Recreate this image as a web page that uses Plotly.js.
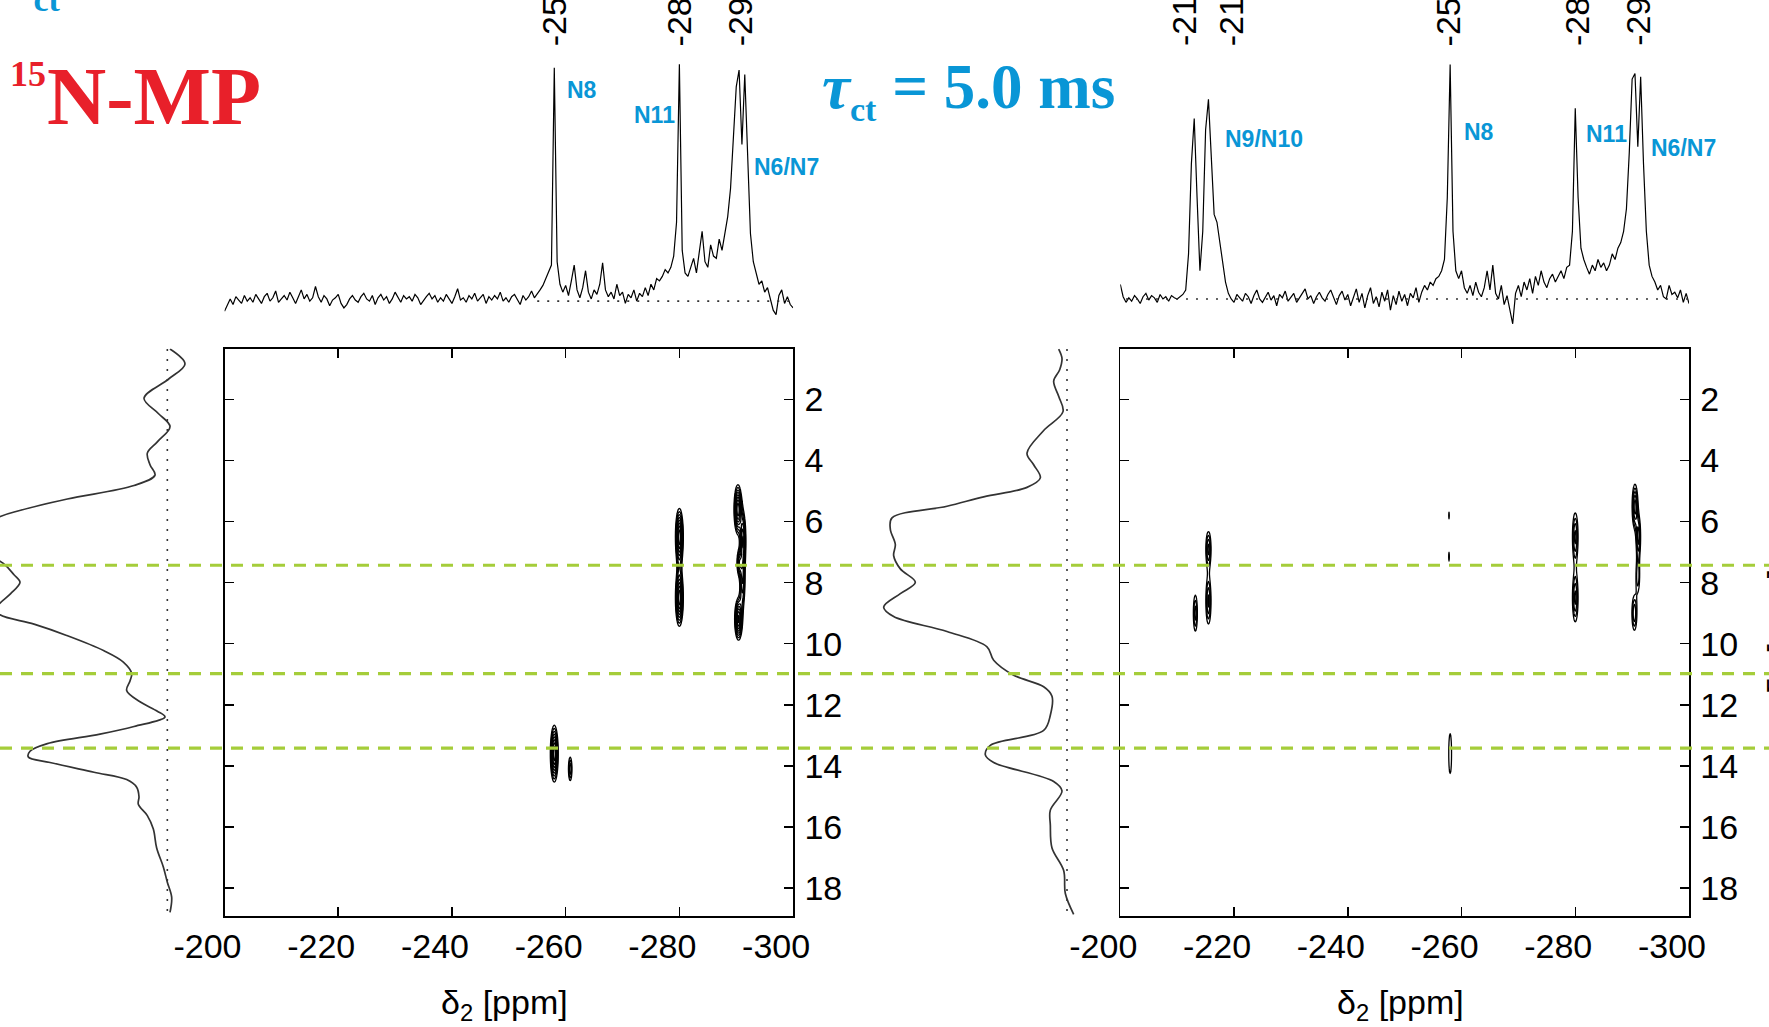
<!DOCTYPE html>
<html>
<head>
<meta charset="utf-8">
<script src="https://cdn.plot.ly/plotly-3.0.1.min.js"></script>
<style>
  html, body { margin: 0; padding: 0; background: #ffffff; }
  #chart { width: 1769px; height: 1027px; }
</style>
</head>
<body>
<div id="chart"></div>
<script>
// ---------------- data ----------------
// 1D 15N spectra above each 2D map, sampled every 0.5 ppm from -200 ppm
const ppmStart = -200;
const ppmStep = -0.5;
const specLeft = [
  -9, -4, 2, -3, 4, 1, -2, 5, 0, 3,
  -1, 6, 2, -2, 4, 7, 0, 3, 9, -1,
  2, 5, 1, 8, 3, -2, 4, 10, 2, 6,
  0, 3, 13, 4, -1, 5, 2, -4, 1, 3,
  6, -2, -6, -3, 2, 5, 1, -1, 4, 7,
  2, 0, 5, -3, 3, 6, 1, 4, -2, 2,
  8, 3, -1, 5, 2, 4, 0, 6, 3, -3,
  1, 4, 7, 2, 5, -1, 3, 0, 6, 2,
  -2, 4, 11, 1, 3, -1, 5, 2, 7, 0,
  3, 6, -2, 4, 1, 5, 2, 8, 0, 3,
  -1, 4, 6, 2, -3, 5, 1, 4, 9, 3,
  6, 10, 14, 20, 26, 32, 207, 35, 15, 8,
  14, 5, 18, 32, 10, 3, 12, 27, 8, 2,
  10, 6, 15, 34, 10, 4, 8, 2, 15, 5,
  8, -2, 6, 3, 10, 0, 7, 4, 12, 5,
  15, 10, 20, 18, 22, 28, 25, 30, 40, 70,
  210, 45, 25, 22, 30, 38, 25, 45, 62, 35,
  30, 50, 40, 38, 55, 45, 60, 75, 100, 140,
  190, 205, 139, 201, 120, 60, 35, 25, 15, 18,
  8, 12, 3, -8, -12, 5, 10, -2, 4, -3,
  -6
];
const specRight = [
  13, 2, -3, 1, -2, 3, 0, -4, 2, 5,
  -1, 3, 1, -3, 4, 0, 2, -2, 3, 1,
  0, 2, 4, 8, 40, 120, 160, 90, 25, 60,
  150, 177, 130, 75, 68, 50, 30, 15, 5, 0,
  -3, 4, 1, -2, 5, 2, -4, 3, 8, 0,
  -3, 2, 6, -1, 3, -6, 4, 1, 7, -2,
  2, 5, -3, 1, 4, 9, 0, 3, -4, 2,
  6, 1, -2, 4, 8, 2, -5, 3, 7, -1,
  4, -6, 2, 9, -3, 5, -8, 3, 10, -4,
  2, -7, 6, -2, 8, -10, 3, -5, 7, -2,
  4, -6, 5, 1, 10, -3, 6, 12, 8, 15,
  12, 18, 20, 25, 35, 90, 208, 60, 25, 18,
  25, 10, 5, 12, 3, 15, 6, 2, 10, 25,
  8, 30, 5, 0, 12, -5, 3, -10, -22, 5,
  12, 2, 15, 8, 18, 5, 20, 12, 25, 15,
  10, 18, 22, 15, 20, 25, 18, 28, 30, 60,
  169, 90, 45, 35, 28, 22, 30, 25, 35, 28,
  32, 25, 30, 40, 35, 45, 50, 60, 80, 130,
  195, 200, 135, 197, 120, 60, 30, 20, 15, 8,
  12, 2, 0, 12, 4, 6, 1, 8, -3, 5,
  -4
];

// 1H projections along delta1 (ppm) with their intensities
const projLeftPpm = [0.35, 0.84, 1.34, 1.96, 2.46, 2.89, 3.39, 3.76, 4.14, 4.48,
  4.82, 5.26, 5.63, 5.88, 6.62, 7.37, 7.74, 7.99, 8.36, 8.67,
  8.86, 9.05, 9.36, 9.73, 10.23, 10.60, 10.97, 11.22, 11.53, 11.90,
  12.21, 12.40, 12.71, 12.96, 13.27, 13.52, 13.71, 13.89, 14.21, 14.45,
  14.70, 15.01, 15.26, 15.63, 16.07, 16.69, 17.31, 17.81, 18.30, 18.80];
const projLeftInt = [-8, -53, -3, 70, 27, -8, 30, 60, 52, 37,
  100, 300, 440, 510, 600, 492, 460, 442, 470, 502,
  515, 502, 400, 302, 190, 132, 107, 112, 122, 82,
  30, 7, 100, 202, 360, 412, 417, 352, 220, 122,
  92, 85, 87, 60, 42, 32, 12, 0, -13, -8];
const projRightPpm = [0.35, 0.66, 1.03, 1.40, 1.90, 2.40, 3.02, 3.76, 4.14, 4.57,
  4.88, 5.19, 5.50, 5.88, 6.25, 6.75, 7.12, 7.55, 7.99, 8.36,
  8.80, 9.11, 9.60, 10.10, 10.54, 11.03, 11.41, 11.72, 12.34, 12.84,
  13.33, 13.64, 13.89, 14.51, 14.82, 15.45, 15.94, 16.69, 17.43, 18.18,
  18.86];
const projRightInt = [25, 15, 22, 40, 25, 12, 70, 120, 100, 80,
  120, 250, 360, 525, 530, 515, 520, 500, 455, 500,
  550, 520, 360, 240, 220, 160, 70, 45, 50, 70,
  230, 245, 220, 40, 15, 50, 50, 45, 10, 5,
  -20];

// 2D cross peaks: delta2 / delta1 centres (ppm), widths (ppm), heights
const peaksLeftD2  = [-280.0, -280.0, -290.3, -291.2, -291.1, -290.4, -290.5, -258.0, -260.8];
const peaksLeftD1  = [6.5, 8.5, 5.6, 6.6, 8.0, 9.2, 7.35, 13.6, 14.1];
const peaksLeftW2  = [0.45, 0.45, 0.45, 0.35, 0.35, 0.45, 0.3, 0.45, 0.28];
const peaksLeftW1  = [0.6, 0.6, 0.52, 0.6, 0.6, 0.45, 0.3, 0.6, 0.35];
const peaksLeftAmp = [1.0, 1.0, 1.0, 0.8, 0.6, 0.95, 0.6, 1.0, 0.55];

const peaksRightD2  = [-213.2, -215.5, -215.5, -258.0, -257.8, -257.8, -280.0, -280.0, -290.5, -291.1, -291.0, -290.4];
const peaksRightD1  = [9.0, 6.9, 8.6, 13.6, 5.8, 7.15, 6.5, 8.5, 5.5, 6.5, 7.8, 9.0];
const peaksRightW2  = [0.3, 0.35, 0.35, 0.3, 0.15, 0.15, 0.38, 0.38, 0.35, 0.3, 0.3, 0.35];
const peaksRightW1  = [0.5, 0.44, 0.58, 0.8, 0.25, 0.3, 0.6, 0.6, 0.5, 0.5, 0.45, 0.45];
const peaksRightAmp = [0.6, 0.7, 0.7, 0.42, 0.33, 0.34, 0.7, 0.7, 0.85, 0.7, 0.5, 0.65];

// axis ticks and guide lines
const xTicks = [-200, -220, -240, -260, -280, -300];
const yTicks = [2, 4, 6, 8, 10, 12, 14, 16, 18];
const guideD1 = [7.43, 10.98, 13.42];

// peak annotations of the 1D traces
const topPpmLeft = [-258.0, -280.0, -290.7];
const topTxtLeft = ['-258.0', '-280.0', '-290.7'];
const topPpmRight = [-211.2, -219.5, -257.7, -280.3, -291.0];
const topTxtRight = ['-212.9', '-215.5', '-258.1', '-280.3', '-290.9'];

// ---------------- helpers ----------------
const W = 1769, H = 1027;
const px = v => v / W;
const py = v => 1 - v / H;
const ppmAxis = n => Array.from({ length: n }, (_, i) => ppmStart + ppmStep * i);

function surface(cx, cy, sx, sy, amp) {
  const xs = [], ys = [];
  for (let i = 0; i <= 920; i++) xs.push(-296 + i * 0.1);
  for (let j = 0; j <= 368; j++) ys.push(0.4 + j * 0.05);
  const z = ys.map(y => xs.map(x => {
    let s = 0;
    for (let k = 0; k < cx.length; k++) {
      const dx = (x - cx[k]) / sx[k], dy = (y - cy[k]) / sy[k];
      s += amp[k] * Math.exp(-0.5 * (dx * dx + dy * dy));
    }
    return s;
  }));
  return { xs, ys, z };
}

const black = '#000000';
const blue = '#0996d6';
const red = '#e8202a';
const green = '#a5cd3a';
const tickFont = { family: 'Liberation Sans, Arial, sans-serif', size: 34, color: black };
const serif = 'Liberation Serif, Times New Roman, serif';

const surfL = surface(peaksLeftD2, peaksLeftD1, peaksLeftW2, peaksLeftW1, peaksLeftAmp);
const surfR = surface(peaksRightD2, peaksRightD1, peaksRightW2, peaksRightW1, peaksRightAmp);

const blackScale = [[0, black], [1, black]];
const dotted = { color: '#333333', width: 1.6, dash: '2px,8px' };

const traces = [
  // 1D traces
  { type: 'scatter', mode: 'lines', x: ppmAxis(specLeft.length), y: specLeft,
    xaxis: 'x3', yaxis: 'y3', line: { color: black, width: 1.2 }, hoverinfo: 'skip' },
  { type: 'scatter', mode: 'lines', x: [-255, -300], y: [0, 0],
    xaxis: 'x3', yaxis: 'y3', line: dotted, hoverinfo: 'skip' },
  { type: 'scatter', mode: 'lines', x: ppmAxis(specRight.length), y: specRight,
    xaxis: 'x4', yaxis: 'y4', line: { color: black, width: 1.2 }, hoverinfo: 'skip' },
  { type: 'scatter', mode: 'lines', x: [-201, -300], y: [0, 0],
    xaxis: 'x4', yaxis: 'y4', line: dotted, hoverinfo: 'skip' },
  // projections
  { type: 'scatter', mode: 'lines', x: projLeftInt, y: projLeftPpm,
    xaxis: 'x5', yaxis: 'y5', line: { color: '#333333', width: 1.7, shape: 'spline', smoothing: 1 }, hoverinfo: 'skip' },
  { type: 'scatter', mode: 'lines', x: [0, 0], y: [0.35, 18.9],
    xaxis: 'x5', yaxis: 'y5', line: dotted, hoverinfo: 'skip' },
  { type: 'scatter', mode: 'lines', x: projRightInt, y: projRightPpm,
    xaxis: 'x6', yaxis: 'y6', line: { color: '#333333', width: 1.7, shape: 'spline', smoothing: 1 }, hoverinfo: 'skip' },
  { type: 'scatter', mode: 'lines', x: [0, 0], y: [0.35, 18.9],
    xaxis: 'x6', yaxis: 'y6', line: dotted, hoverinfo: 'skip' },
  // 2D contour maps
  { type: 'contour', x: surfL.xs, y: surfL.ys, z: surfL.z, xaxis: 'x', yaxis: 'y',
    colorscale: blackScale, showscale: false, hoverinfo: 'skip',
    contours: { coloring: 'lines', start: 0.3, end: 1.3, size: 0.09 },
    line: { color: black, width: 1.3, smoothing: 1 } },
  { type: 'contour', x: surfR.xs, y: surfR.ys, z: surfR.z, xaxis: 'x2', yaxis: 'y2',
    colorscale: blackScale, showscale: false, hoverinfo: 'skip',
    contours: { coloring: 'lines', start: 0.3, end: 1.3, size: 0.12 },
    line: { color: black, width: 1.3, smoothing: 1 } }
];

// 2D frame axes; x labels carry a trailing em space so they sit slightly left of their ticks
function mapX(domain, anchor) {
  return {
    domain, anchor, range: [-200, -300], tickvals: xTicks, ticktext: xTicks.map(v => v + '\u2003'),
    ticks: 'inside', ticklen: 9, tickwidth: 1.5, tickcolor: black,
    showline: true, linecolor: black, linewidth: 1.5, mirror: 'ticks',
    showgrid: false, zeroline: false, tickfont: tickFont, ticklabelstandoff: 0
  };
}
function mapY(domain, anchor) {
  return {
    domain, anchor, range: [18.92, 0.336], side: 'right', tickvals: yTicks, ticktext: yTicks.map(String),
    ticks: 'inside', ticklen: 9, tickwidth: 1.5, tickcolor: black,
    showline: true, linecolor: black, linewidth: 1.5, mirror: 'ticks',
    showgrid: false, zeroline: false, tickfont: tickFont, ticklabelstandoff: 3
  };
}
const hidden = (domain, range, anchor) => ({
  domain, range, anchor, visible: false, showgrid: false, zeroline: false
});

const mapYDomain = [py(916.1), py(348.6)];
const leftXDomain = [px(224.5), px(793.1)];
const rightXDomain = [px(1120.3), px(1689.0)];

const annotations = [];

// panel labels
annotations.push({ xref: 'paper', yref: 'paper', x: px(45), y: py(97), xanchor: 'left', yanchor: 'middle',
  text: 'N-MP', showarrow: false,
  font: { family: serif, size: 82, color: red, weight: 'bold' } });
annotations.push({ xref: 'paper', yref: 'paper', x: px(8), y: py(74), xanchor: 'left', yanchor: 'middle',
  text: '15', showarrow: false,
  font: { family: serif, size: 36, color: red, weight: 'bold' } });
annotations.push({ xref: 'paper', yref: 'paper', x: px(820), y: py(90), xanchor: 'left', yanchor: 'middle',
  text: '<i>τ</i><sub><span style="font-size:34px">ct</span></sub> = 5.0 ms', showarrow: false,
  font: { family: serif, size: 63, color: blue, weight: 'bold' } });
annotations.push({ xref: 'paper', yref: 'paper', x: px(4), y: py(-20), xanchor: 'left', yanchor: 'middle',
  text: '<i>τ</i><sub><span style="font-size:34px">ct</span></sub>', showarrow: false,
  font: { family: serif, size: 62, color: blue, weight: 'bold' } });

// axis titles
const titleFont = { family: 'Liberation Sans, Arial, sans-serif', size: 34, color: black };
annotations.push({ xref: 'paper', yref: 'paper', x: (leftXDomain[0] + leftXDomain[1]) / 2 - px(4), y: py(1004),
  xanchor: 'center', yanchor: 'middle', text: 'δ<sub>2</sub> [ppm]', showarrow: false, font: titleFont });
annotations.push({ xref: 'paper', yref: 'paper', x: (rightXDomain[0] + rightXDomain[1]) / 2 - px(4), y: py(1004),
  xanchor: 'center', yanchor: 'middle', text: 'δ<sub>2</sub> [ppm]', showarrow: false, font: titleFont });
annotations.push({ xref: 'paper', yref: 'paper', x: px(1757), y: py(632), xanchor: 'left', yanchor: 'middle',
  textangle: -90, text: 'δ<sub>1</sub> [ppm]', showarrow: false, font: titleFont });

// peak positions above the 1D traces
topPpmLeft.forEach((p, i) => annotations.push({ xref: 'x3', yref: 'paper', x: p, y: py(48),
  xanchor: 'center', yanchor: 'bottom', textangle: -90, text: topTxtLeft[i], showarrow: false, font: tickFont }));
topPpmRight.forEach((p, i) => annotations.push({ xref: 'x4', yref: 'paper', x: p, y: py(48),
  xanchor: 'center', yanchor: 'bottom', textangle: -90, text: topTxtRight[i], showarrow: false, font: tickFont }));

// assignments
const nFont = { family: 'Liberation Sans, Arial, sans-serif', size: 23, color: blue, weight: 'bold' };
[
  ['x3', 'y3', -262.8, 187, 'N8'], ['x3', 'y3', -275.6, 165, 'N11'], ['x3', 'y3', -298.9, 119, 'N6/N7'],
  ['x4', 'y4', -225.3, 142, 'N9/N10'], ['x4', 'y4', -263.1, 148, 'N8'],
  ['x4', 'y4', -285.5, 146, 'N11'], ['x4', 'y4', -299.1, 134, 'N6/N7']
].forEach(a => annotations.push({ xref: a[0], yref: a[1], x: a[2], y: a[3], text: a[4],
  xanchor: 'center', yanchor: 'middle', showarrow: false, font: nFont }));

// horizontal guides at selected delta1 values
const shapes = guideD1.map(v => ({
  type: 'line', xref: 'paper', x0: 0, x1: 1, yref: 'y', y0: v, y1: v, layer: 'above',
  line: { color: green, width: 3.2, dash: '12px,9px' }
}));

const layout = {
  width: W, height: H,
  margin: { l: 0, r: 0, t: 0, b: 0, pad: 0 },
  paper_bgcolor: '#ffffff', plot_bgcolor: 'rgba(0,0,0,0)',
  showlegend: false,
  xaxis: mapX(leftXDomain, 'y'),
  yaxis: mapY(mapYDomain, 'x'),
  xaxis2: mapX(rightXDomain, 'y2'),
  yaxis2: mapY(mapYDomain, 'x2'),
  xaxis3: hidden(leftXDomain, [-200, -300], 'y3'),
  yaxis3: hidden([py(335), py(58.7)], [-30, 215], 'x3'),
  xaxis4: hidden(rightXDomain, [-200, -300], 'y4'),
  yaxis4: hidden([py(332.8), py(56.5)], [-30, 215], 'x4'),
  xaxis5: hidden([0, px(200)], [502, -98], 'y5'),
  yaxis5: hidden(mapYDomain, [18.92, 0.336], 'x5'),
  xaxis6: hidden([px(880), px(1080)], [561, -39], 'y6'),
  yaxis6: hidden(mapYDomain, [18.92, 0.336], 'x6'),
  annotations, shapes
};

Plotly.newPlot('chart', traces, layout, { staticPlot: true, displayModeBar: false });
</script>
</body>
</html>
